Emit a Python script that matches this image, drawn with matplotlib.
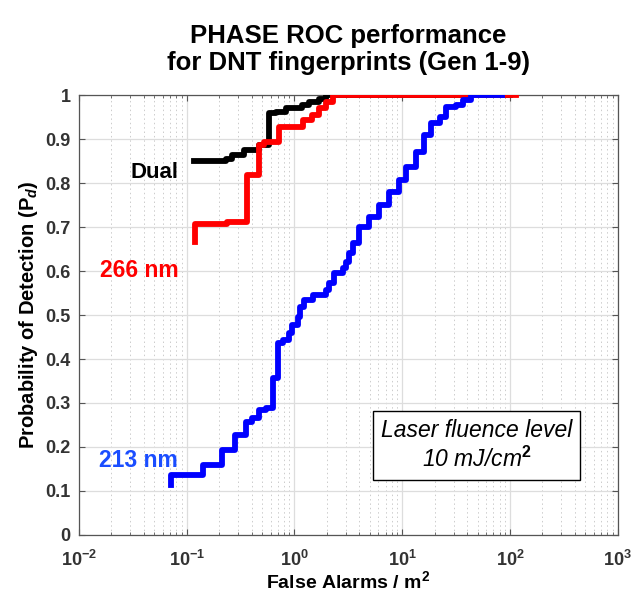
import matplotlib
matplotlib.use("Agg")
import matplotlib.pyplot as plt
from matplotlib.ticker import LogLocator, NullFormatter, FuncFormatter
import numpy as np

plt.rcParams['font.family'] = ['Liberation Sans', 'DejaVu Sans']
plt.rcParams['mathtext.fontset'] = 'custom'
plt.rcParams['mathtext.rm'] = 'Liberation Sans:bold'
plt.rcParams['mathtext.it'] = 'Liberation Sans:italic:bold'
plt.rcParams['mathtext.bf'] = 'Liberation Sans:bold'

# step curves: false alarms per m^2 vs probability of detection
dual_x = [0.117, 0.231, 0.264, 0.34, 0.47, 0.58, 0.67, 0.83, 1.18, 1.37, 1.7, 1.95, 100]
dual_y = [0.85, 0.855, 0.864, 0.875, 0.886, 0.958, 0.962, 0.97, 0.977, 0.985, 0.992, 1.0, 1.0]

nm266_x = [0.12, 0.12, 0.238, 0.366, 0.47, 0.52, 0.72, 1.19, 1.47, 1.7, 1.95, 2.26, 114]
nm266_y = [0.666, 0.707, 0.712, 0.818, 0.886, 0.893, 0.928, 0.943, 0.955, 0.97, 0.985, 1.0, 1.0]

nm213_x = [0.072, 0.072, 0.142, 0.215, 0.282, 0.355, 0.40, 0.47, 0.55, 0.63, 0.70, 0.78,
           0.895, 0.95, 1.07, 1.12, 1.23, 1.5, 1.96, 2.1, 2.34, 2.8, 3.0, 3.24, 3.47, 4.0,
           4.95, 6.13, 7.6, 9.4, 10.9, 13.4, 16.1, 18.5, 22.2, 25.6, 31.7, 36.5, 43.6, 85]
nm213_y = [0.114, 0.136, 0.159, 0.193, 0.227, 0.257, 0.265, 0.284, 0.288, 0.356, 0.436, 0.443,
           0.458, 0.477, 0.496, 0.519, 0.534, 0.545, 0.557, 0.572, 0.595, 0.606, 0.621, 0.64, 0.663, 0.70,
           0.723, 0.75, 0.78, 0.807, 0.837, 0.871, 0.909, 0.936, 0.951, 0.973, 0.977, 0.989, 1.0, 1.0]

y_ticks = np.round(np.arange(0, 1.01, 0.1), 1)
y_labels = ['0'] + [f'{v:.1f}' for v in y_ticks[1:-1]] + ['1']

fig = plt.figure(figsize=(6.31, 5.92), dpi=100)
ax = fig.add_axes([0.125, 0.0963, 0.854, 0.7432])

ax.step(dual_x, dual_y, where='post', color='black', lw=4.2, zorder=3)
ax.step(nm266_x, nm266_y, where='post', color='#ff0000', lw=4.2, zorder=4)
ax.step(nm213_x, nm213_y, where='post', color='#0000ff', lw=4.2, zorder=5)

ax.set_xscale('log')
ax.set_xlim(1e-2, 1e3)
ax.set_ylim(0, 1)
ax.xaxis.set_major_locator(LogLocator(base=10, numticks=10))
ax.xaxis.set_major_formatter(FuncFormatter(lambda v, p: '10$^{%d}$' % round(np.log10(v))))
ax.xaxis.set_minor_locator(LogLocator(base=10, subs=range(2, 10), numticks=20))
ax.xaxis.set_minor_formatter(NullFormatter())
ax.set_yticks(y_ticks)
ax.set_yticklabels(y_labels, fontweight='bold')

ax.grid(True, which='major', color='#dddddd', lw=0.9, ls='-', zorder=0)
ax.grid(True, which='minor', axis='x', color='#cccccc', lw=0.7, ls=(0, (1.5, 3)), zorder=0)
ax.set_axisbelow(True)

for s in ax.spines.values():
    s.set_color('#555555')
    s.set_linewidth(0.9)
ax.tick_params(which='both', direction='in', top=True, right=True, color='#555555')
ax.tick_params(which='major', length=4, labelsize=13, labelcolor='#333333', pad=6)
ax.tick_params(axis='x', which='major', pad=11)
ax.tick_params(which='minor', length=2.5)
for lab in ax.get_xticklabels():
    lab.set_fontweight('bold')

ax.set_xlabel('False Alarms / m$^2$', fontsize=14, fontweight='bold')
ax.xaxis.set_label_coords(0.5, -0.08)
ax.set_ylabel('Probability of Detection (P$_d$)', fontsize=14.5, fontweight='bold', labelpad=4)
ax.set_title('PHASE ROC performance\nfor DNT fingerprints (Gen 1-9)',
             fontsize=18.5, fontweight='bold', pad=18, linespacing=1.15)

ax.text(0.05, 0.825, 'Dual', color='black', fontsize=16, fontweight='bold',
        ha='center', va='center', zorder=6)
ax.text(0.036, 0.602, '266 nm', color='#ff0000', fontsize=16.5, fontweight='bold',
        ha='center', va='center', zorder=6)
ax.text(0.036, 0.17, '213 nm', color='#1a4dff', fontsize=16.5, fontweight='bold',
        ha='center', va='center', zorder=6)

ax.text(49, 0.203, 'Laser fluence level\n10 mJ/cm$^2$', fontsize=16.5, style='italic',
        ha='center', va='center', linespacing=1.25, zorder=6,
        bbox=dict(boxstyle='square,pad=0.35', facecolor='white', edgecolor='black', lw=1.0))

fig.savefig('out.png', dpi=100)
